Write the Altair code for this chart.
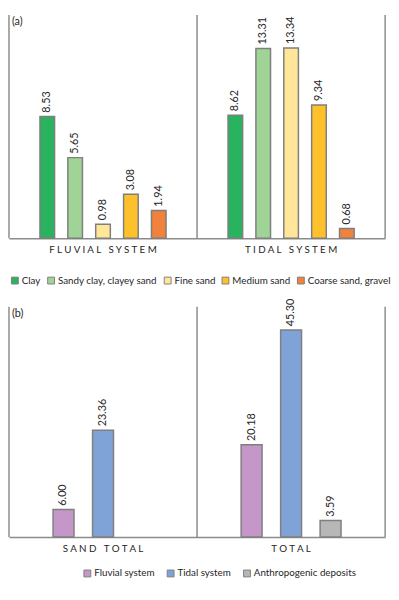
import altair as alt
import pandas as pd

# ---------------- data ----------------
groups_a = ["FLUVIAL SYSTEM", "TIDAL SYSTEM"]
sediments = ["Clay", "Sandy clay, clayey sand", "Fine sand", "Medium sand", "Coarse sand, gravel"]
fluvial_vals = [8.53, 5.65, 0.98, 3.08, 1.94]
tidal_vals = [8.62, 13.31, 13.34, 9.34, 0.68]
sediment_colors = ["#29B35E", "#A0D396", "#FFE699", "#FFC12B", "#F0823C"]

groups_b = ["SAND TOTAL", "TOTAL"]
systems = ["Fluvial system", "Tidal system", "Anthropogenic deposits"]
sand_total_vals = [6.00, 23.36, None]
total_vals = [20.18, 45.30, 3.59]
system_colors = ["#C597C8", "#7FA2D7", "#B7B7B7"]

rows_a = []
for g, vals in zip(groups_a, [fluvial_vals, tidal_vals]):
    for c, v in zip(sediments, vals):
        if v is not None:
            rows_a.append({"group": g, "cat": c, "value": v})
df_a = pd.DataFrame(rows_a)

rows_b = []
for g, vals in zip(groups_b, [sand_total_vals, total_vals]):
    for c, v in zip(systems, vals):
        if v is not None:
            rows_b.append({"group": g, "cat": c, "value": v})
df_b = pd.DataFrame(rows_b)

# ---------------- style ----------------
W = 384
FRAME = "#8C8C8C"
STROKE = "#7F7F7F"
FONT = "Lato"
TXT = "#262626"
label_expr = "join(split(datum.label, ''), '\u00a0')"


def panel(df, group_order, cat_order, colors, ymax, height, gpi, pi, tag,
          lx, ly, colpad):
    x = alt.X("group:N", sort=group_order,
              scale=alt.Scale(paddingInner=gpi, paddingOuter=gpi / 2),
              axis=alt.Axis(title=None, labelExpr=label_expr, labelAngle=0,
                            ticks=False, domain=True, domainColor=FRAME,
                            domainWidth=1.5, labelFont=FONT, labelFontSize=10,
                            labelPadding=7, labelColor=TXT, grid=False))
    xo = alt.XOffset("cat:N", sort=cat_order,
                     scale=alt.Scale(domain=cat_order, paddingInner=pi, paddingOuter=1))
    y = alt.Y("value:Q", scale=alt.Scale(domain=[0, ymax], nice=False, zero=True),
              axis=None)
    color = alt.Color("cat:N", sort=cat_order,
                      scale=alt.Scale(domain=cat_order, range=colors),
                      legend=alt.Legend(title=None, orient="none", legendX=lx,
                                        legendY=ly, direction="horizontal",
                                        columns=len(cat_order), symbolType="square",
                                        symbolSize=49, symbolStrokeColor=STROKE,
                                        symbolStrokeWidth=1, padding=0,
                                        labelFont=FONT, labelFontSize=10,
                                        labelColor=TXT, columnPadding=colpad,
                                        labelOffset=2))
    base = alt.Chart(df).encode(x=x, xOffset=xo, y=y)
    bars = base.mark_bar(stroke=STROKE, strokeWidth=1.5).encode(color=color)
    labels = base.mark_text(angle=270, align="left", baseline="middle", dx=4,
                            font=FONT, fontSize=11, color=TXT).encode(
        text=alt.Text("value:Q", format=".2f"))
    one = pd.DataFrame({"k": [0]})
    rules = [
        alt.Chart(one).mark_rule(color=FRAME, strokeWidth=1.5).encode(
            x=alt.value(xp), y=alt.value(0), y2=alt.value(height))
        for xp in [0, W / 2, W]
    ]
    tag_chart = alt.Chart(pd.DataFrame({"tag": [tag]})).mark_text(
        align="left", baseline="top", font=FONT, fontSize=11, color=TXT).encode(
        x=alt.value(3), y=alt.value(1), text="tag:N")
    return alt.layer(*rules, bars, labels, tag_chart).properties(width=W, height=height)


chart_a = panel(df_a, groups_a, sediments, sediment_colors, 15.66, 228, 0.033, 0.475,
                "(a)", 1, 266, 4)
chart_b = panel(df_b, groups_b, systems, system_colors, 50.4, 235, 0.049, 0.47,
                "(b)", 75, 267, 10)

chart = alt.vconcat(chart_a, chart_b, spacing=12).resolve_scale(
    color="independent", x="independent", y="independent", xOffset="independent"
).resolve_legend(color="independent").properties(padding=0).configure_view(stroke=None)

chart.save("out.html", embed_options={"renderer": "svg", "actions": False})
